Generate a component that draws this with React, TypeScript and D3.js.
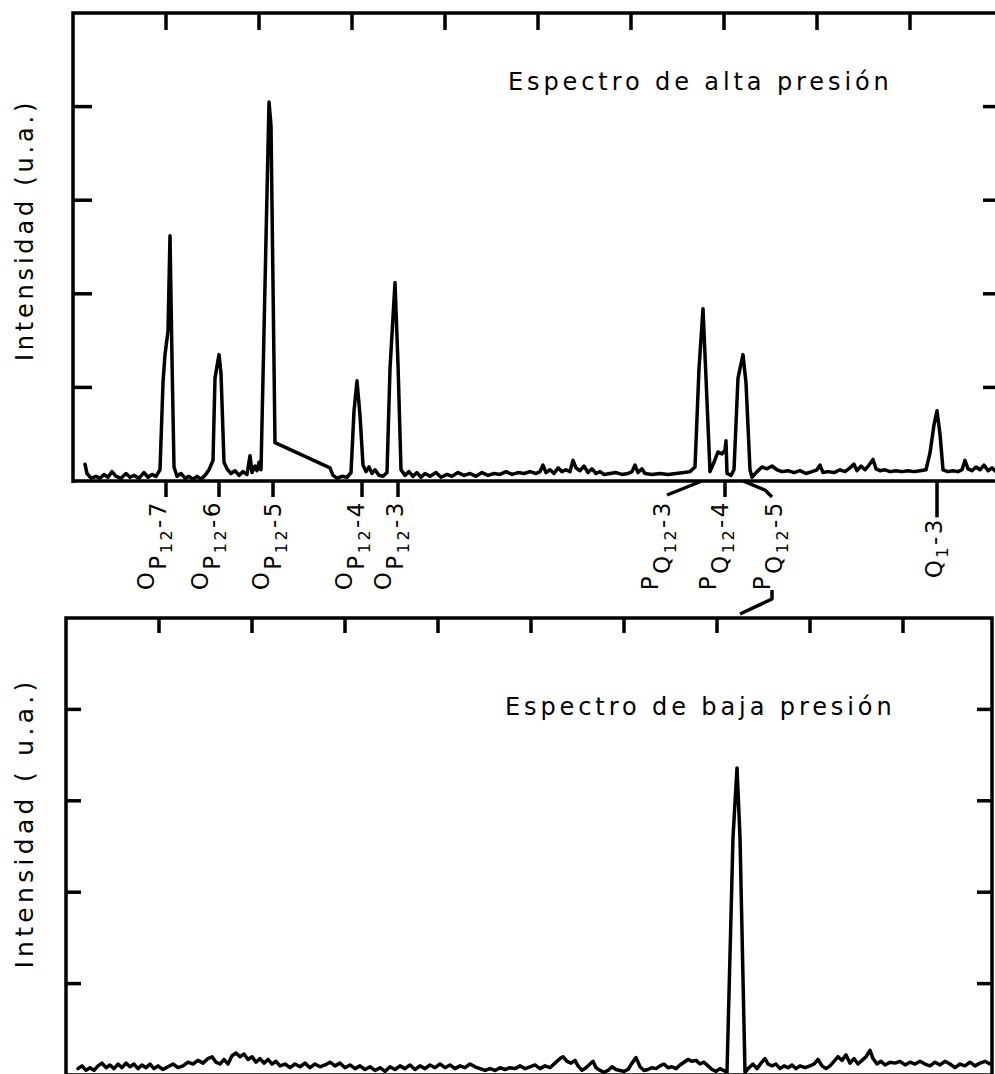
import React from 'react';
import * as d3 from 'd3';

// Spectrum values: [scan channel, intensity (u.a.)]
const highPressure: [number, number][] = [
  [12, 0.18], [14, 0.08], [18, 0.03], [23, 0.05], [27, 0.03], [31, 0.07], [35, 0.04], [39, 0.1],
  [43, 0.05], [48, 0.03], [53, 0.08], [57, 0.04], [61, 0.06], [66, 0.03], [71, 0.09], [75, 0.04],
  [79, 0.07], [83, 0.05], [87, 0.12], [90, 1.05], [92, 1.35], [95, 1.6], [97, 2.62], [99, 1.3],
  [101, 0.15], [104, 0.05], [108, 0.08], [112, 0.03], [116, 0.05], [120, 0.02], [124, 0.05],
  [128, 0.02], [132, 0.06], [136, 0.12], [140, 0.22], [142, 1.1], [146, 1.35], [148, 1.15],
  [151, 0.2], [154, 0.13], [158, 0.08], [162, 0.11], [166, 0.06], [170, 0.1], [174, 0.07],
  [177, 0.27], [179, 0.09], [182, 0.16], [184, 0.11], [186, 0.2], [188, 0.12], [191, 1.6],
  [196, 4.05], [198, 3.8], [202, 0.41], [257, 0.14], [260, 0.06], [264, 0.03], [269, 0.05],
  [274, 0.04], [278, 0.09], [281, 0.75], [284, 1.07], [287, 0.7], [290, 0.17], [293, 0.1],
  [296, 0.15], [299, 0.08], [302, 0.12], [306, 0.06], [310, 0.05], [314, 0.09], [317, 1.2],
  [322, 2.12], [325, 1.25], [328, 0.12], [332, 0.06], [336, 0.1], [340, 0.05], [344, 0.09],
  [348, 0.04], [352, 0.08], [357, 0.05], [363, 0.09], [368, 0.04], [374, 0.07], [379, 0.05],
  [385, 0.09], [391, 0.06], [397, 0.08], [403, 0.05], [409, 0.09], [415, 0.06], [421, 0.08],
  [427, 0.07], [433, 0.1], [439, 0.07], [445, 0.09], [451, 0.08], [457, 0.1], [463, 0.08],
  [467, 0.1], [470, 0.17], [473, 0.09], [477, 0.12], [481, 0.08], [485, 0.14], [489, 0.1],
  [493, 0.12], [497, 0.1], [500, 0.22], [503, 0.14], [507, 0.11], [511, 0.16], [515, 0.09],
  [519, 0.13], [523, 0.08], [527, 0.1], [531, 0.07], [537, 0.08], [543, 0.09], [549, 0.07],
  [555, 0.08], [559, 0.1], [562, 0.17], [565, 0.09], [569, 0.13], [572, 0.08], [579, 0.07],
  [587, 0.08], [595, 0.07], [603, 0.08], [611, 0.09], [617, 0.1], [622, 0.15], [626, 1.2],
  [630, 1.84], [633, 1.1], [637, 0.1], [641, 0.2], [645, 0.31], [649, 0.29], [652, 0.33],
  [653, 0.43], [654, 0.08], [658, 0.06], [661, 0.12], [665, 1.1], [670, 1.35], [673, 1.05],
  [677, 0.12], [679, 0.04], [684, 0.1], [689, 0.15], [694, 0.13], [699, 0.16], [704, 0.12],
  [709, 0.1], [715, 0.11], [721, 0.09], [727, 0.11], [733, 0.08], [739, 0.1], [744, 0.12],
  [747, 0.17], [750, 0.09], [755, 0.1], [761, 0.09], [767, 0.12], [772, 0.1], [777, 0.14],
  [781, 0.18], [784, 0.11], [788, 0.16], [792, 0.12], [796, 0.17], [800, 0.23], [803, 0.13],
  [807, 0.11], [812, 0.12], [817, 0.1], [823, 0.11], [829, 0.1], [835, 0.11], [841, 0.1],
  [847, 0.11], [853, 0.12], [857, 0.3], [861, 0.6], [864, 0.75], [867, 0.5], [870, 0.12],
  [875, 0.1], [880, 0.11], [885, 0.1], [889, 0.12], [892, 0.22], [895, 0.13], [899, 0.11],
  [903, 0.15], [907, 0.12], [911, 0.17], [915, 0.11], [919, 0.14], [923, 0.1], [927, 0.12],
];

const lowPressure: [number, number][] = [
  [12, 0.07], [16, 0.1], [20, 0.05], [24, 0.08], [28, 0.05], [32, 0.1], [36, 0.13], [40, 0.08],
  [44, 0.11], [48, 0.07], [52, 0.12], [56, 0.08], [60, 0.13], [64, 0.09], [68, 0.12], [72, 0.07],
  [76, 0.11], [80, 0.08], [84, 0.12], [88, 0.07], [92, 0.1], [97, 0.06], [102, 0.09], [107, 0.12],
  [112, 0.08], [117, 0.1], [122, 0.14], [127, 0.12], [132, 0.16], [137, 0.13], [142, 0.18],
  [146, 0.2], [150, 0.14], [154, 0.12], [158, 0.17], [162, 0.12], [166, 0.21], [170, 0.24],
  [174, 0.2], [178, 0.23], [182, 0.17], [186, 0.2], [190, 0.14], [194, 0.18], [198, 0.13],
  [202, 0.17], [206, 0.12], [210, 0.15], [214, 0.1], [219, 0.12], [224, 0.08], [229, 0.12],
  [234, 0.09], [239, 0.13], [244, 0.08], [249, 0.12], [254, 0.09], [259, 0.11], [264, 0.14],
  [269, 0.1], [274, 0.13], [279, 0.08], [284, 0.11], [289, 0.07], [294, 0.1], [299, 0.06],
  [304, 0.09], [309, 0.05], [314, 0.08], [319, 0.04], [324, 0.09], [329, 0.06], [334, 0.1],
  [339, 0.07], [344, 0.11], [349, 0.06], [354, 0.1], [359, 0.07], [364, 0.11], [369, 0.08],
  [374, 0.12], [379, 0.08], [384, 0.11], [389, 0.07], [394, 0.1], [399, 0.08], [404, 0.12],
  [409, 0.09], [414, 0.07], [419, 0.05], [424, 0.07], [429, 0.05], [434, 0.08], [439, 0.06],
  [444, 0.08], [449, 0.07], [454, 0.1], [459, 0.07], [464, 0.09], [469, 0.11], [474, 0.07],
  [479, 0.1], [484, 0.08], [489, 0.13], [494, 0.18], [497, 0.2], [501, 0.15], [505, 0.13],
  [509, 0.16], [512, 0.1], [516, 0.05], [520, 0.08], [524, 0.12], [527, 0.15], [530, 0.08],
  [534, 0.05], [538, 0.03], [542, 0.05], [546, 0.09], [550, 0.06], [554, 0.05], [558, 0.04],
  [562, 0.06], [566, 0.13], [570, 0.19], [574, 0.09], [578, 0.05], [582, 0.06], [586, 0.08],
  [590, 0.07], [594, 0.1], [598, 0.12], [602, 0.08], [606, 0.09], [610, 0.07], [614, 0.11],
  [618, 0.14], [622, 0.17], [626, 0.15], [630, 0.16], [634, 0.12], [638, 0.14], [642, 0.1],
  [646, 0.06], [650, 0.04], [654, 0.07], [661, 0.03], [667, 2.6], [671, 3.36], [674, 2.6],
  [679, 0.03], [683, 0.08], [687, 0.12], [691, 0.07], [695, 0.13], [699, 0.18], [702, 0.12],
  [706, 0.1], [710, 0.12], [714, 0.07], [718, 0.1], [722, 0.08], [726, 0.11], [730, 0.07],
  [734, 0.1], [739, 0.08], [744, 0.1], [748, 0.12], [752, 0.17], [756, 0.1], [760, 0.07],
  [764, 0.1], [768, 0.15], [772, 0.2], [776, 0.16], [780, 0.22], [784, 0.13], [788, 0.18],
  [792, 0.12], [796, 0.16], [800, 0.2], [804, 0.27], [807, 0.18], [811, 0.12], [815, 0.15],
  [819, 0.11], [824, 0.14], [829, 0.13], [834, 0.15], [839, 0.11], [844, 0.14], [849, 0.12],
  [854, 0.15], [859, 0.12], [864, 0.1], [869, 0.14], [874, 0.11], [879, 0.15], [884, 0.12],
  [889, 0.08], [894, 0.12], [899, 0.1], [904, 0.14], [909, 0.1], [914, 0.13], [919, 0.15],
  [924, 0.12],
];

const xTickChannels = [93, 186, 279, 372, 465, 558, 651, 744, 837];
const yTickValues = [1, 2, 3, 4];

const titles = ['Espectro de alta presión', 'Espectro de baja presión'];
const yTitles = ['Intensidad (u.a.)', 'Intensidad ( u.a.)'];

// Line assignments under the high-pressure spectrum
type Lbl = { pre: string; main: string; sub: string; num: string; channel: number; tick: number[] | null; leader: [number, number][] | null; drop: number };
const lineLabels: Lbl[] = [
  { pre: 'O', main: 'P', sub: '12', num: '-7', channel: 93, tick: [93], leader: null, drop: 0 },
  { pre: 'O', main: 'P', sub: '12', num: '-6', channel: 147, tick: [146], leader: null, drop: 0 },
  { pre: 'O', main: 'P', sub: '12', num: '-5', channel: 208, tick: [200], leader: null, drop: 0 },
  { pre: 'O', main: 'P', sub: '12', num: '-4', channel: 291, tick: [289], leader: null, drop: 0 },
  { pre: 'O', main: 'P', sub: '12', num: '-3', channel: 330, tick: [325], leader: null, drop: 0 },
  { pre: 'P', main: 'Q', sub: '12', num: '-3', channel: 597, tick: null, leader: [[629, 0], [594, 14]], drop: 0 },
  { pre: 'P', main: 'Q', sub: '12', num: '-4', channel: 655, tick: [652], leader: null, drop: 0 },
  { pre: 'P', main: 'Q', sub: '12', num: '-5', channel: 709, tick: null, leader: [[670, 0], [692, 9], [699, 16]], drop: 0 },
  { pre: '', main: 'Q', sub: '1', num: '-3', channel: 869, tick: [864], leader: null, drop: 17 },
];

const W = 995;
const H = 1074;

export default function App() {
  const top = { left: 73, right: 1002, top: 13, bottom: 481 };
  const bot = { left: 66, right: 992, top: 618, bottom: 1075 };

  const xTop = d3.scaleLinear().domain([0, 929]).range([top.left, top.right]);
  const yTop = d3.scaleLinear().domain([0, 5]).range([top.bottom, top.top]);
  const xBot = d3.scaleLinear().domain([0, 926]).range([bot.left, bot.right]);
  const yBot = d3.scaleLinear().domain([0, 5]).range([bot.bottom, bot.top]);

  const lineTop = d3.line<[number, number]>().x((d) => xTop(d[0])).y((d) => yTop(d[1])).curve(d3.curveLinear);
  const lineBot = d3.line<[number, number]>().x((d) => xBot(d[0])).y((d) => yBot(d[1])).curve(d3.curveLinear);

  const sw = 3.5;
  const font = "'DejaVu Sans', sans-serif";

  const frame = (p: typeof top) =>
    `M${p.left},${p.bottom + 2}V${p.top}H${p.right}V${p.bottom}H${p.left}`;

  // connector from P_Q12-5 label into the low-pressure panel
  const connTop = xTop(699);
  const connBot = xBot(674);

  return (
    <svg width={W} height={H} style={{ position: 'absolute', left: 0, top: 0, background: '#fff' }} fontFamily={font}>
      <rect x={0} y={0} width={W} height={H} fill="#fff" />
      {/* ---------- top panel ---------- */}
      <path d={frame(top)} fill="none" stroke="#000" strokeWidth={sw} />
      {xTickChannels.map((c) => (
        <line key={'tt' + c} x1={xTop(c)} x2={xTop(c)} y1={top.top} y2={top.top + 17} stroke="#000" strokeWidth={sw} />
      ))}
      {yTickValues.map((v) => (
        <g key={'ty' + v}>
          <line x1={top.left} x2={top.left + 19} y1={yTop(v)} y2={yTop(v)} stroke="#000" strokeWidth={sw} />
          <line x1={top.right - 19} x2={top.right} y1={yTop(v)} y2={yTop(v)} stroke="#000" strokeWidth={sw} />
        </g>
      ))}
      <path d={lineTop(highPressure) || ''} fill="none" stroke="#000" strokeWidth={sw} strokeLinejoin="round" strokeLinecap="round" />
      <text x={508} y={90} fontSize={24} letterSpacing={3.9} fill="#000">{titles[0]}</text>
      <text transform={`translate(33,230) rotate(-90)`} textAnchor="middle" fontSize={24} letterSpacing={3.8} fill="#000">{yTitles[0]}</text>

      {lineLabels.map((l, i) => {
        const bx = xTop(l.channel);
        const ty = top.bottom + 19 + l.drop;
        return (
          <g key={'lbl' + i}>
            {l.tick && (
              <line x1={xTop(l.tick[0])} x2={xTop(l.tick[0])} y1={top.bottom} y2={top.bottom + 16 + l.drop * 1.2} stroke="#000" strokeWidth={sw} />
            )}
            {l.leader && (
              <polyline
                points={l.leader.map((p) => `${xTop(p[0])},${top.bottom + p[1]}`).join(' ')}
                fill="none" stroke="#000" strokeWidth={sw} strokeLinejoin="round"
              />
            )}
            <text transform={`translate(${bx},${ty}) rotate(-90)`} textAnchor="end" fontSize={23} letterSpacing={2.5} fill="#000">
              {l.pre && <tspan dy={-12}>{l.pre}</tspan>}
              <tspan dy={l.pre ? 12 : 0}>{l.main}</tspan>
              <tspan dy={6} fontSize={16}>{l.sub}</tspan>
              <tspan dy={-6}>{l.num}</tspan>
            </text>
          </g>
        );
      })}
      <polyline
        points={`${connTop},590 ${connTop},599 ${connBot},${bot.top - 4}`}
        fill="none" stroke="#000" strokeWidth={sw} strokeLinejoin="round"
      />

      {/* ---------- bottom panel ---------- */}
      <path d={frame(bot)} fill="none" stroke="#000" strokeWidth={sw} />
      {xTickChannels.map((c) => (
        <line key={'bt' + c} x1={xBot(c)} x2={xBot(c)} y1={bot.top} y2={bot.top + 15} stroke="#000" strokeWidth={sw} />
      ))}
      {yTickValues.map((v) => (
        <g key={'by' + v}>
          <line x1={bot.left} x2={bot.left + 15} y1={yBot(v)} y2={yBot(v)} stroke="#000" strokeWidth={sw} />
          <line x1={bot.right - 15} x2={bot.right} y1={yBot(v)} y2={yBot(v)} stroke="#000" strokeWidth={sw} />
        </g>
      ))}
      <path d={lineBot(lowPressure) || ''} fill="none" stroke="#000" strokeWidth={sw} strokeLinejoin="round" strokeLinecap="round" />
      <text x={505} y={715} fontSize={24} letterSpacing={3.9} fill="#000">{titles[1]}</text>
      <text transform={`translate(33,823) rotate(-90)`} textAnchor="middle" fontSize={25} letterSpacing={4.3} fill="#000">{yTitles[1]}</text>
    </svg>
  );
}
